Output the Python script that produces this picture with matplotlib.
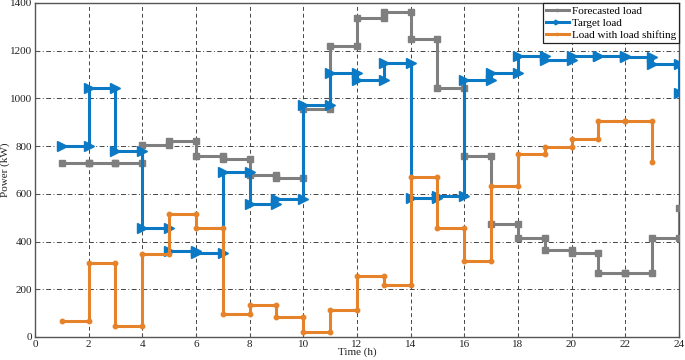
import matplotlib
matplotlib.use("Agg")
import matplotlib.pyplot as plt

plt.rcParams['font.family'] = ['Liberation Serif', 'DejaVu Serif']

# Data (hourly values, start at hour 1; last value is a point at the end hour)
forecasted = [730, 730, 730, 805, 820, 760, 745, 680, 665, 955, 1220, 1335,
              1360, 1250, 1045, 760, 475, 415, 365, 350, 270, 270, 415, 540]
target = [800, 1042, 778, 458, 359, 351, 691, 556, 580, 971, 1108, 1076,
          1148, 582, 589, 1077, 1105, 1179, 1161, 1179, 1176, 1175, 1144, 1023]
shifted = [68, 310, 48, 348, 514, 455, 95, 132, 84, 21, 112, 256,
           218, 670, 455, 318, 632, 768, 794, 831, 906, 906, 734]

labels = ["Forecasted load", "Target load", "Load with load shifting"]
x_ticks = list(range(0, 25, 2))
y_ticks = list(range(0, 1401, 200))


def step_vertices(vals, start=1):
    xs, ys = [], []
    n = len(vals)
    for i in range(n - 1):
        xs += [start + i, start + i + 1]
        ys += [vals[i], vals[i]]
    xs.append(start + n - 1)
    ys.append(vals[-1])
    return xs, ys


fig = plt.figure(figsize=(6.85, 3.6), dpi=100)
ax = fig.add_axes([0.051, 0.064, 0.940, 0.928])

gray = '#7f7f7f'
blue = '#0B79C4'
orange = '#E5822A'

xs, ys = step_vertices(forecasted)
ax.plot(xs, ys, color=gray, lw=2.2, marker='s', ms=4.3, label=labels[0], zorder=3)
xs, ys = step_vertices(target)
ax.plot(xs, ys, color=blue, lw=2.2, marker='>', ms=7, label=labels[1], zorder=4)
xs, ys = step_vertices(shifted)
ax.plot(xs, ys, color=orange, lw=2.2, marker='o', ms=3.2, label=labels[2], zorder=5)

ax.set_xlim(0, 24)
ax.set_ylim(0, 1400)
ax.set_xticks(x_ticks)
ax.set_yticks(y_ticks)

for y in y_ticks[1:-1]:
    ax.axhline(y, color='#444444', lw=0.7, dashes=(5, 2.5, 1, 2.5), zorder=1)
for x in x_ticks[1:-1]:
    ax.axvline(x, color='#444444', lw=0.7, dashes=(4, 3), zorder=1)

for s in ax.spines.values():
    s.set_color('#555555')
    s.set_linewidth(1.0)
ax.tick_params(direction='in', length=3, width=0.8, colors='#555555',
               labelcolor='#222222', labelsize=8, pad=2)

ax.set_xlabel('Time (h)', fontsize=8, labelpad=-1, color='#222222')
ax.set_ylabel('Power (kW)', fontsize=8, color='#222222')
ax.yaxis.set_label_coords(-0.039, 0.5)

leg = ax.legend(loc='upper right', fontsize=8, frameon=True, fancybox=False,
                edgecolor='#222222', framealpha=1, borderpad=0.3,
                labelspacing=0.2, handlelength=2.0, handletextpad=0.3,
                borderaxespad=0.0, markerscale=0.5,
                bbox_to_anchor=(1.001, 1.0))
leg.get_frame().set_linewidth(0.9)

fig.savefig('out.png', dpi=100)
